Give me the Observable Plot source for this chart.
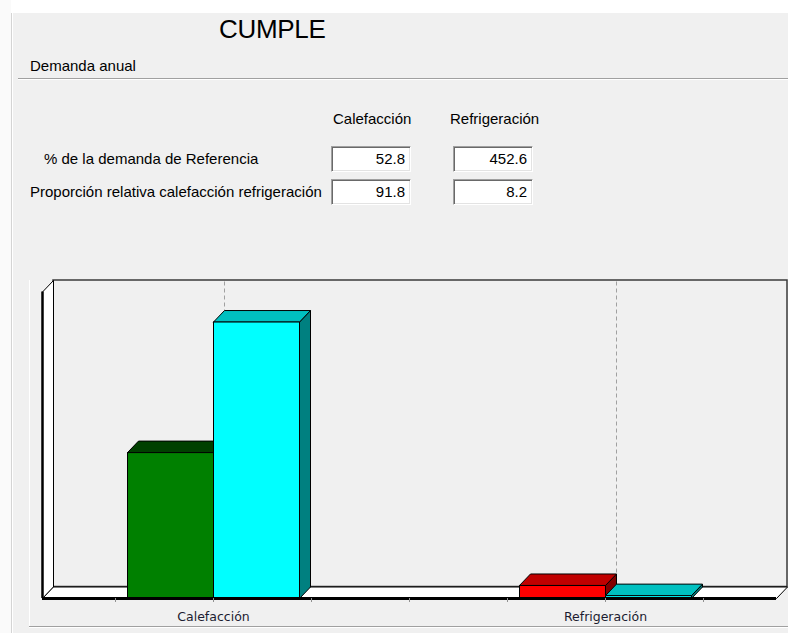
<!DOCTYPE html>
<html><head><meta charset="utf-8">
<script src="https://cdn.jsdelivr.net/npm/d3@7"></script>
<script src="https://cdn.jsdelivr.net/npm/@observablehq/plot@0.6"></script>
<style>
html,body{margin:0;padding:0;background:#f0f0f0;}
#page{position:relative;width:788px;height:633px;background:#f0f0f0;overflow:hidden;font-family:"Liberation Sans",Arial,sans-serif;color:#000;}
.abs{position:absolute;white-space:nowrap;}
.lbl{font-size:15px;line-height:16px;}
.box{position:absolute;width:80px;height:26px;background:#fff;box-sizing:border-box;
 border-top:1px solid #a0a0a0;border-left:1px solid #a0a0a0;border-bottom:1px solid #fff;border-right:1px solid #fff;
 box-shadow:inset 1px 1px 0 #696969, inset -1px -1px 0 #e3e3e3;
 font-size:15px;line-height:24px;text-align:right;padding-right:5px;}
#chart{position:absolute;left:0;top:262px;}
</style></head><body>
<div id="page">
  <div class="abs" style="left:0;top:0;width:788px;height:13px;background:#fff"></div>
  <div class="abs" style="left:0;top:0;width:11px;height:633px;background:#fafafa"></div>
  <div class="abs" style="left:11px;top:13px;width:1px;height:620px;background:#d4d4d4"></div>
  <div class="abs" style="left:12px;top:13px;width:1px;height:620px;background:#fff"></div>
  <div id="title" class="abs" style="left:219px;top:14px;font-size:26px;line-height:30px;letter-spacing:-0.3px"></div>
  <div id="section" class="abs lbl" style="left:30px;top:58px"></div>
  <div class="abs" style="left:18px;top:78px;width:770px;height:1px;background:#a0a0a0"></div>
  <div class="abs" style="left:18px;top:79px;width:770px;height:1px;background:#fff"></div>
  <div id="form"></div>
  <div class="abs" style="left:29px;top:280px;width:1px;height:346px;background:#fff"></div>
  <div class="abs" style="left:29px;top:626px;width:759px;height:1px;background:#a0a0a0"></div>
  <div class="abs" style="left:29px;top:627px;width:759px;height:1px;background:#fff"></div>
  <div id="chart"></div>
</div>
<script>
// ---- data ----
const titleText = "CUMPLE";
const sectionText = "Demanda anual";
const categories = ["Calefacción", "Refrigeración"];
const rowLabels = ["% de la demanda de Referencia", "Proporción relativa calefacción refrigeración"];
const pctReferencia = [52.8, 452.6];
const proporcion = [91.8, 8.2];
// bar values (arbitrary demand units, top of wall = 100)
const objeto = [47.6, 4.25];
const referencia = [90.2, 0.94];
const tickPositions = [-0.25, 0, 0.25, 0.5, 0.75, 1, 1.25];

// ---- styles ----
const objetoFront = ["#008000", "#ff0000"];
const objetoTop = ["#004000", "#c00000"];
const objetoSide = ["#004000", "#800000"];
const refFront = "#00ffff", refTop = "#00c0c0", refSide = "#008080";

// ---- HTML part ----
document.getElementById("title").textContent = titleText;
document.getElementById("section").textContent = sectionText;
const form = document.getElementById("form");
const colLeft = [331, 453];
const colHeadLeft = [333, 450];
categories.forEach((c, j) => {
  const d = document.createElement("div");
  d.className = "abs lbl"; d.style.left = colHeadLeft[j] + "px"; d.style.top = "111px";
  d.textContent = c; form.appendChild(d);
});
const rowTop = [146, 179];
const rowLabelLeft = [44, 30];
[pctReferencia, proporcion].forEach((vals, i) => {
  const l = document.createElement("div");
  l.className = "abs lbl"; l.style.left = rowLabelLeft[i] + "px"; l.style.top = (rowTop[i] + 5) + "px";
  l.textContent = rowLabels[i]; form.appendChild(l);
  vals.forEach((v, j) => {
    const b = document.createElement("div");
    b.className = "box"; b.style.left = colLeft[j] + "px"; b.style.top = rowTop[i] + "px";
    b.textContent = v.toFixed(1); form.appendChild(b);
  });
});

// ---- chart geometry ----
const W = 788, H = 371;
const mLeft = 42, mRight = 12, mTop = 29.5, mBottom = 35;
const pxPerCat = 392;                 // pixels between category centres
const xMin = -(213 - mLeft) / pxPerCat;
const xMax = 1 + (W - mRight - 605) / pxPerCat;
const yMax = 100;
const pxPerY = (H - mTop - mBottom) / yMax;
const dX = 11 / pxPerCat, dY = 11.5 / pxPerY;   // 3D depth offsets
const barW = 86 / pxPerCat;

const polys = [];
function poly(id, fill, pts) {
  pts.concat([pts[0]]).forEach(([x, y]) => polys.push({id, fill, x, y}));
}
function bar(id, x1, x2, v, front, top, side) {
  poly(id + "-side", side, [[x2, 0], [x2 + dX, dY], [x2 + dX, v + dY], [x2, v]]);
  poly(id + "-top", top, [[x1, v], [x2, v], [x2 + dX, v + dY], [x1 + dX, v + dY]]);
  poly(id + "-front", front, [[x1, 0], [x2, 0], [x2, v], [x1, v]]);
}
categories.forEach((c, i) => {
  bar("obj" + i, i - barW, i, objeto[i], objetoFront[i], objetoTop[i], objetoSide[i]);
  bar("ref" + i, i, i + barW, referencia[i], refFront, refTop, refSide);
});

const walls = [];
function wall(id, fill, pts) { pts.concat([pts[0]]).forEach(([x, y]) => walls.push({id, fill, x, y})); }
wall("side", "#ffffff", [[xMin, 0], [xMin, yMax], [xMin + dX, yMax + dY], [xMin + dX, dY]]);
wall("floor", "#ffffff", [[xMin, 0], [xMax, 0], [xMax + dX, dY], [xMin + dX, dY]]);

const chart = Plot.plot({
  width: W, height: H,
  marginLeft: mLeft, marginRight: mRight, marginTop: mTop, marginBottom: mBottom,
  style: {background: "transparent", fontFamily: "'DejaVu Sans', sans-serif", fontSize: "12.5px", color: "#1c1c30"},
  x: {domain: [xMin, xMax], axis: null},
  y: {domain: [0, yMax], axis: null},
  marks: [
    // back wall
    Plot.rect([0], {x1: xMin + dX, x2: xMax + dX, y1: dY, y2: yMax + dY, fill: "#f0f0f0", stroke: "#3a3a3a", strokeWidth: 1.5}),
    // grid lines on back wall
    Plot.ruleX(categories.map((c, i) => i), {x: d => d + dX, y1: dY, y2: yMax + dY, stroke: "#a0a0a0", strokeDasharray: "4,3", strokeWidth: 1}),
    // side wall and floor
    Plot.line(walls, {x: "x", y: "y", z: "id", fill: "fill", stroke: "#000", strokeWidth: 1}),
    // bars
    Plot.line(polys, {x: "x", y: "y", z: "id", fill: "fill", stroke: "#000", strokeWidth: 1, strokeLinejoin: "miter"}),
    // thick front edges
    Plot.ruleX([xMin], {y1: 0, y2: yMax, stroke: "#000", strokeWidth: 2.5}),
    Plot.ruleY([0], {x1: xMin, x2: xMax, stroke: "#000", strokeWidth: 3}),
    // category axis
    Plot.axisX({ticks: tickPositions, tickSize: 4, tickPadding: 10, stroke: "#909090", label: null,
      letterSpacing: "0.7px",
      tickFormat: d => (Number.isInteger(d) && categories[d]) ? categories[d] : ""})
  ]
});
document.getElementById("chart").appendChild(chart);
</script>
</body></html>
